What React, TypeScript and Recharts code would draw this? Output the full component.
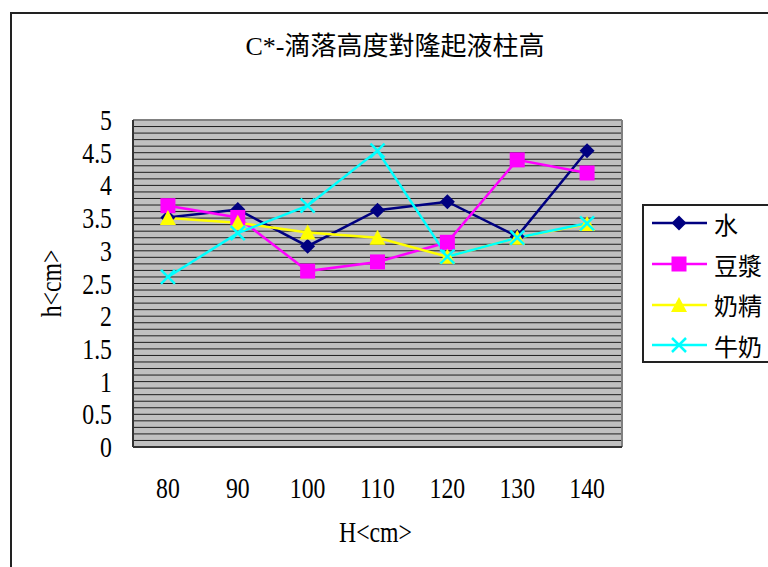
import React from 'react';
import { LineChart, Line, XAxis, YAxis, CartesianGrid, Legend, ReferenceLine } from 'recharts';

// drop height H (cm) and the measured liquid column h (cm) for each liquid
const heights = [80, 90, 100, 110, 120, 130, 140];
const water = [3.51, 3.63, 3.07, 3.62, 3.75, 3.22, 4.53];
const soyMilk = [3.69, 3.51, 2.69, 2.83, 3.13, 4.39, 4.19];
const creamer = [3.5, 3.43, 3.28, 3.2, 2.91, 3.2, 3.41];
const milk = [2.6, 3.27, 3.69, 4.53, 2.91, 3.2, 3.42];

const yTicks = [0, 0.5, 1, 1.5, 2, 2.5, 3, 3.5, 4, 4.5, 5];
const xBoundaries = [75, 85, 95, 105, 115, 125, 135, 145];
const gridValues = Array.from({ length: 51 }, (_, i) => i / 10);

const FONT = "'Liberation Serif', 'Noto Sans CJK TC', serif";
const NUM_SIZE = 29;
const SQUEEZE = 0.82;

type Shape = 'diamond' | 'square' | 'triangle' | 'cross';

const series: { key: string; name: string; color: string; shape: Shape }[] = [
  { key: 'water', name: '水', color: '#000080', shape: 'diamond' },
  { key: 'soyMilk', name: '豆漿', color: '#FF00FF', shape: 'square' },
  { key: 'creamer', name: '奶精', color: '#FFFF00', shape: 'triangle' },
  { key: 'milk', name: '牛奶', color: '#00FFFF', shape: 'cross' },
];

const data = heights.map((h, i) => ({
  h,
  water: water[i],
  soyMilk: soyMilk[i],
  creamer: creamer[i],
  milk: milk[i],
}));

// narrow serif text, like the old Ming-style latin glyphs
const NarrowText = ({ x, y, anchor, rotate, children }: any) => (
  <text
    transform={`translate(${x},${y})${rotate ? ` rotate(${rotate})` : ''} scale(${SQUEEZE},1)`}
    textAnchor={anchor}
    fontSize={NUM_SIZE}
    fontFamily={FONT}
    fill="#000"
  >
    {children}
  </text>
);

const XTick = ({ x, y, payload }: any) => (
  <NarrowText x={x} y={y} anchor="middle">
    {payload.value}
  </NarrowText>
);

const YTick = ({ x, y, payload }: any) => (
  <NarrowText x={x} y={y + 10} anchor="end">
    {payload.value}
  </NarrowText>
);

const Marker = ({ cx, cy, shape, color }: { cx: number; cy: number; shape: Shape; color: string }) => {
  if (cx == null || cy == null) return null;
  switch (shape) {
    case 'diamond':
      return <polygon points={`${cx},${cy - 7.5} ${cx + 7.5},${cy} ${cx},${cy + 7.5} ${cx - 7.5},${cy}`} fill={color} />;
    case 'square':
      return <rect x={cx - 7.5} y={cy - 7.5} width={15} height={15} fill={color} />;
    case 'triangle':
      return <polygon points={`${cx},${cy - 8} ${cx + 8},${cy + 7} ${cx - 8},${cy + 7}`} fill={color} />;
    default:
      return (
        <g stroke={color} strokeWidth={2.5}>
          <line x1={cx - 7} y1={cy - 7} x2={cx + 7} y2={cy + 7} />
          <line x1={cx - 7} y1={cy + 7} x2={cx + 7} y2={cy - 7} />
        </g>
      );
  }
};

const LegendBox = () => (
  <div style={{ marginTop: -3 }}>
    {series.map((s) => (
      <div key={s.key} style={{ display: 'flex', alignItems: 'center', height: 40.7 }}>
        <svg width={68} height={24} style={{ marginLeft: 6 }}>
          <line x1={2} y1={12} x2={57} y2={12} stroke={s.color} strokeWidth={2.5} />
          <Marker cx={29} cy={12} shape={s.shape} color={s.color} />
        </svg>
        <span style={{ fontFamily: FONT, fontSize: 24, color: '#000', marginLeft: -4, whiteSpace: 'nowrap' }}>{s.name}</span>
      </div>
    ))}
  </div>
);

export default function App() {
  return (
    <div style={{ position: 'absolute', left: 0, top: 0, width: 768, height: 567, overflow: 'hidden', background: '#fff' }}>
      <div
        style={{
          position: 'absolute',
          left: 10,
          top: 12,
          width: 900,
          height: 700,
          borderLeft: '2px solid #222',
          borderTop: '2px solid #222',
        }}
      />
      <div
        style={{
          position: 'absolute',
          left: 0,
          width: 790,
          top: 32,
          lineHeight: '30px',
          textAlign: 'center',
          fontFamily: FONT,
          fontSize: 26,
          color: '#000',
          whiteSpace: 'nowrap',
        }}
      >
        C*-滴落高度對隆起液柱高
      </div>
      <div style={{ position: 'absolute', left: 0, top: 0 }}>
        <LineChart
          width={768}
          height={567}
          data={data}
          margin={{ top: 120, right: 146, bottom: 90, left: 73 }}
          style={{ fontFamily: FONT }}
        >
          <CartesianGrid horizontal vertical={false} horizontalValues={gridValues} fill="#C0C0C0" stroke="#000" strokeOpacity={0.85} />
          <XAxis
            dataKey="h"
            type="number"
            domain={[75, 145]}
            ticks={heights}
            interval={0}
            tickLine={false}
            axisLine={false}
            tickSize={0}
            tickMargin={51}
            height={30}
            tick={<XTick />}
            label={{
              value: 'H<cm>',
              content: ({ viewBox }: any) => (
                <NarrowText x={viewBox.x + viewBox.width / 2 - 2} y={viewBox.y + 95} anchor="middle">
                  H&lt;cm&gt;
                </NarrowText>
              ),
            }}
          />
          <XAxis
            xAxisId="frame"
            dataKey="h"
            type="number"
            domain={[75, 145]}
            ticks={xBoundaries}
            interval={0}
            tick={false}
            tickSize={9}
            mirror
            axisLine={{ stroke: '#333', strokeWidth: 2 }}
            tickLine={{ stroke: '#000', strokeWidth: 1.5 }}
          />
          <YAxis
            domain={[0, 5]}
            ticks={yTicks}
            interval={0}
            tickLine={false}
            axisLine={false}
            tickSize={0}
            tickMargin={21}
            width={60}
            tick={<YTick />}
            label={{
              value: 'h<cm>',
              content: ({ viewBox }: any) => (
                <NarrowText x={viewBox.x - 12} y={viewBox.y + viewBox.height / 2} anchor="middle" rotate={-90}>
                  h&lt;cm&gt;
                </NarrowText>
              ),
            }}
          />
          <YAxis
            yAxisId="frame"
            domain={[0, 5]}
            ticks={yTicks}
            interval={0}
            tick={false}
            tickSize={9}
            mirror
            axisLine={{ stroke: '#333', strokeWidth: 2 }}
            tickLine={{ stroke: '#333', strokeWidth: 1.5 }}
          />
          <ReferenceLine y={5} stroke="#808080" strokeWidth={2} />
          <ReferenceLine x={145} stroke="#808080" strokeWidth={2} />
          {series.map((s) => (
            <Line
              key={s.key}
              dataKey={s.key}
              name={s.name}
              stroke={s.color}
              strokeWidth={2.5}
              isAnimationActive={false}
              dot={(p: any) => <Marker key={`${s.key}-${p.index}`} cx={p.cx} cy={p.cy} shape={s.shape} color={s.color} />}
              activeDot={false}
            />
          ))}
          <Legend
            layout="vertical"
            align="center"
            verticalAlign="middle"
            content={<LegendBox />}
            wrapperStyle={{
              left: 642,
              top: 204,
              width: 200,
              height: 159,
              borderLeft: '2px solid #222',
              borderTop: '2px solid #222',
              borderBottom: '2px solid #222',
              background: '#fff',
              boxSizing: 'border-box',
            }}
          />
        </LineChart>
      </div>
    </div>
  );
}
